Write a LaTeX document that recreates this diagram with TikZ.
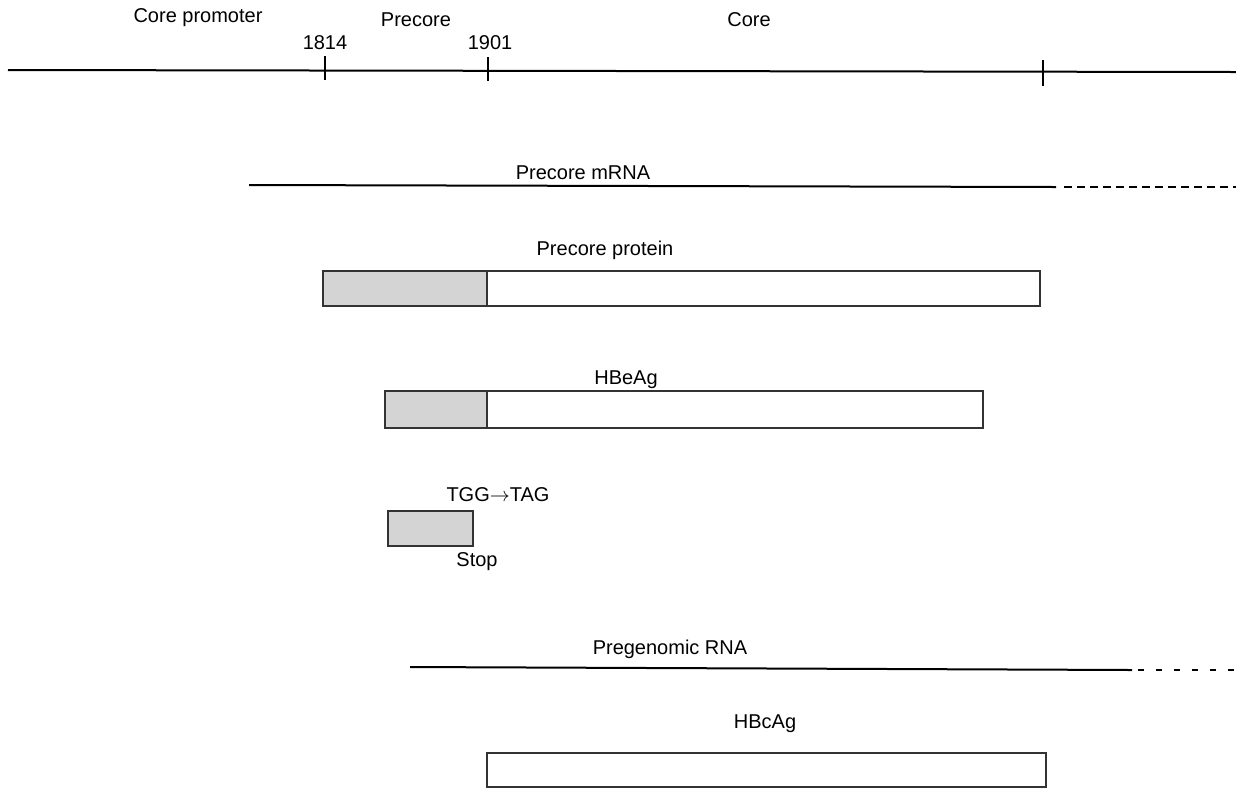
\documentclass[tikz,border=0pt]{standalone}
\usepackage{fontspec}
\setmainfont{Liberation Sans}
\begin{document}
\begin{tikzpicture}[x=0.5pt,y=-0.5pt,
  lbl/.style={font=\fontsize{10}{12}\selectfont, inner sep=0pt, anchor=center},
  gene/.style={line width=1pt, black},
  tick/.style={line width=0.8pt, black},
  rna/.style={line width=1pt, black},
  rnadash/.style={line width=1.2pt, black, dash pattern=on 4pt off 2.5pt},
  rnadot/.style={line width=1pt, black, dash pattern=on 3pt off 6pt},
  boxw/.style={draw=black!80, line width=0.6pt, fill=white},
  boxg/.style={draw=black!80, line width=0.6pt, fill=black!17}]
\useasboundingbox (0,0) rectangle (1236,789);
\fill[white] (0,0) rectangle (1236,789);

% genome line
\coordinate (gL) at (8,70);
\coordinate (gR) at (1236,72);
\draw[gene] (gL) -- (gR);
\coordinate (t1a) at (325,56); \coordinate (t1b) at (325,80);
\coordinate (t2a) at (488,57); \coordinate (t2b) at (488,81);
\coordinate (t3a) at (1043,60); \coordinate (t3b) at (1043,86);
\draw[tick] (t1a) -- (t1b);
\draw[tick] (t2a) -- (t2b);
\draw[tick] (t3a) -- (t3b);
\node[lbl] (cp) at (198,18) {Core promoter};
\node[lbl] (pc) at (416,20) {Precore};
\node[lbl] (n1814) at (325,43) {1814};
\node[lbl] (n1901) at (490,43) {1901};
\node[lbl] (core) at (749,20) {Core};

% precore mRNA
\coordinate (mL) at (249,185);
\coordinate (mM) at (1056,187);
\coordinate (mD) at (1064,187);
\coordinate (mR) at (1236,187);
\draw[rna] (mL) -- (mM);
\draw[rnadash] (mD) -- (mR);
\node[lbl] (mrna) at (583,173) {Precore mRNA};

% precore protein
\node[lbl] (pp) at (605,250) {Precore protein};
\coordinate (pp1) at (323,271); \coordinate (pp2) at (487,306);
\coordinate (pp3) at (487,271); \coordinate (pp4) at (1040,306);
\draw[boxw] (pp3) rectangle (pp4);
\draw[boxg] (pp1) rectangle (pp2);

% HBeAg
\node[lbl] (hbe) at (626,380) {HBeAg};
\coordinate (he1) at (385,391); \coordinate (he2) at (487,428);
\coordinate (he3) at (487,391); \coordinate (he4) at (983,428);
\draw[boxw] (he3) rectangle (he4);
\draw[boxg] (he1) rectangle (he2);

% stop
\node[lbl] (tgg) at (498,495) {TGG$\rightarrow$TAG};
\coordinate (s1) at (388,511); \coordinate (s2) at (473,546);
\draw[boxg] (s1) rectangle (s2);
\node[lbl] (stop) at (477,562) {Stop};

% pregenomic RNA
\node[lbl] (pg) at (670,649) {Pregenomic RNA};
\coordinate (rL) at (410,667);
\coordinate (rM) at (1132,670);
\coordinate (rD) at (1138,670);
\coordinate (rR) at (1236,670);
\draw[rna] (rL) -- (rM);
\draw[rnadot] (rD) -- (rR);

% HBcAg
\node[lbl] (hbc) at (765,724) {HBcAg};
\coordinate (hc1) at (487,753); \coordinate (hc2) at (1046,787);
\draw[boxw] (hc1) rectangle (hc2);
\end{tikzpicture}
\end{document}
